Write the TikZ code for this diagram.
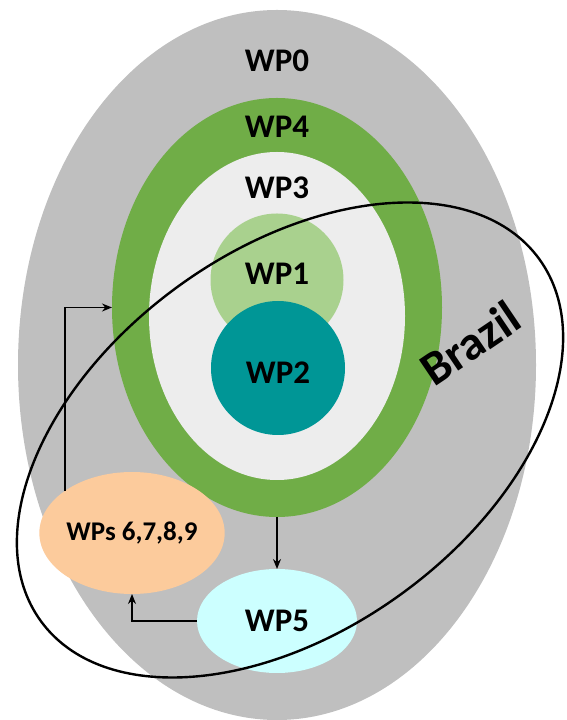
\documentclass[tikz,border=0pt]{standalone}
\usepackage{fontspec}
\setmainfont{Carlito}
\usetikzlibrary{shapes.geometric,arrows.meta,positioning,calc}
\definecolor{wpgrey}{RGB}{191,191,191}
\definecolor{wpgreen}{RGB}{112,173,71}
\definecolor{wplight}{RGB}{237,237,237}
\definecolor{wpleaf}{RGB}{169,209,142}
\definecolor{wpteal}{RGB}{0,150,150}
\definecolor{wppeach}{RGB}{252,203,156}
\definecolor{wpcyan}{RGB}{204,255,255}

\begin{document}
\begin{tikzpicture}[
      x=1pt, y=1pt,
      blob/.style={ellipse, inner sep=0pt, outer sep=0pt, font=\fontsize{33}{38}\selectfont\bfseries},
      lbl/.style={inner sep=0pt, font=\fontsize{33}{38}\selectfont\bfseries},
      arrow/.style={-{Stealth[length=10pt,width=8pt]}, line width=1.5pt, black}
    ]
      \useasboundingbox (0,0) rectangle (567,720);

      % nested work packages
      \node[blob, fill=wpgrey, minimum width=518pt, minimum height=710pt] (wp0) at (277,355) {};
      \node[blob, fill=wpgreen, minimum width=330pt, minimum height=419pt] (wp4) at (277,412.5) {};
      \node[blob, fill=wplight, minimum width=256pt, minimum height=328pt] (wp3) at (277,404) {};
      \node[blob, fill=wpleaf, minimum width=133pt, minimum height=133pt] (wp1) at (277,440) {};
      \node[blob, fill=wpteal, minimum width=134pt, minimum height=134pt] (wp2) at (278,352) {};

      \node[lbl] (t0) at ($(wp0.north)+(0,-51)$) {WP0};
      \node[lbl] (t4) at ($(wp4.north)+(0,-29)$) {WP4};
      \node[lbl] (t3) at ($(wp3.north)+(0,-36)$) {WP3};
      \node[lbl] (t1) at ($(wp1.center)+(0,6)$) {WP1};
      \node[lbl] (t2) at ($(wp2.center)+(0,-5)$) {WP2};

      \node[blob, fill=wppeach, minimum width=146pt, minimum height=122pt, font=\fontsize{27}{32}\selectfont\bfseries] (wps) at (132,187) {WPs 6,7,8,9};
      \node[blob, fill=wpcyan, minimum width=160pt, minimum height=104pt] (wp5) at (277,99) {WP5};

      % country outline
      \node[ellipse, draw, line width=2.4pt, rotate=36, minimum width=616pt, minimum height=380pt] (brazil) at (290,280) {};
      \node[font=\fontsize{48}{54}\selectfont\bfseries, rotate=34, inner sep=0pt] (brazillbl) at (470,377) {Brazil};

      \draw[arrow] (wps.148) |- (wp4.west);
      \draw[arrow] (wp4.south) -- (wp5.north);
      \draw[arrow] (wp5.west) -| (wps.south);
    \end{tikzpicture}
\end{document}
